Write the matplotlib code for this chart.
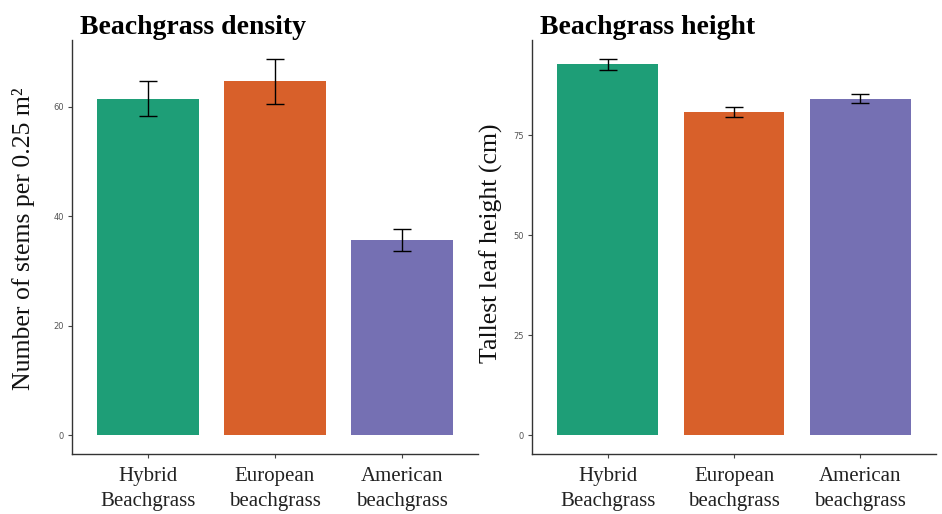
import numpy as np
import matplotlib.pyplot as plt

# data
species = ['Hybrid\nBeachgrass', 'European\nbeachgrass', 'American\nbeachgrass']
colors = ['#1e9e77', '#d8602a', '#7570b3']

density_mean = [61.5, 64.7, 35.7]
density_lo = [58.4, 60.5, 33.7]
density_hi = [64.7, 68.8, 37.7]

height_mean = [92.7, 80.75, 84.1]
height_lo = [91.2, 79.5, 83.0]
height_hi = [94.1, 82.0, 85.3]

serif = ['Liberation Serif', 'DejaVu Serif']

fig = plt.figure(figsize=(9.42, 5.14), dpi=100)
ax1 = fig.add_axes([0.0764, 0.1167, 0.431, 0.8055])
ax2 = fig.add_axes([0.5648, 0.1167, 0.4288, 0.8055])


def draw_panel(ax, means, lo, hi, yticks, ylabel, title, label_x, label_y):
    x = np.arange(len(species))
    ax.bar(x, means, width=0.8, color=colors, zorder=2)
    err = [np.array(means) - np.array(lo), np.array(hi) - np.array(means)]
    ax.errorbar(x, means, yerr=err, fmt='none', ecolor='black',
                elinewidth=1.0, capsize=6.5, capthick=1.0, zorder=3)
    top = max(hi)
    ax.set_ylim(-0.05 * top, top * 1.05)
    ax.set_xlim(-0.6, 2.6)
    ax.set_xticks(x)
    ax.set_xticklabels(species, family=serif, fontsize=15, color='#222222',
                       linespacing=1.45)
    ax.set_yticks(yticks)
    ax.set_yticklabels([str(t) for t in yticks], fontsize=6, color='#555555')
    ax.tick_params(axis='y', length=3, width=0.8, color='#444444', pad=3)
    ax.tick_params(axis='x', length=3, width=0.8, color='#444444', pad=6)
    for s in ['top', 'right']:
        ax.spines[s].set_visible(False)
    for s in ['left', 'bottom']:
        ax.spines[s].set_color('#333333')
        ax.spines[s].set_linewidth(1.0)
    ax.set_ylabel(ylabel, family=serif, fontsize=18.5, color='#111111')
    ax.yaxis.set_label_coords(label_x, label_y)
    ax.set_title(title, family=serif, fontsize=20, fontweight='bold', loc='left',
                 pad=2, x=0.02)


draw_panel(ax1, density_mean, density_lo, density_hi, [0, 20, 40, 60],
           'Number of stems per 0.25 m²', 'Beachgrass density', -0.09, 0.52)
draw_panel(ax2, height_mean, height_lo, height_hi, [0, 25, 50, 75],
           'Tallest leaf height (cm)', 'Beachgrass height', -0.072, 0.51)

fig.savefig('out.png', dpi=100)
